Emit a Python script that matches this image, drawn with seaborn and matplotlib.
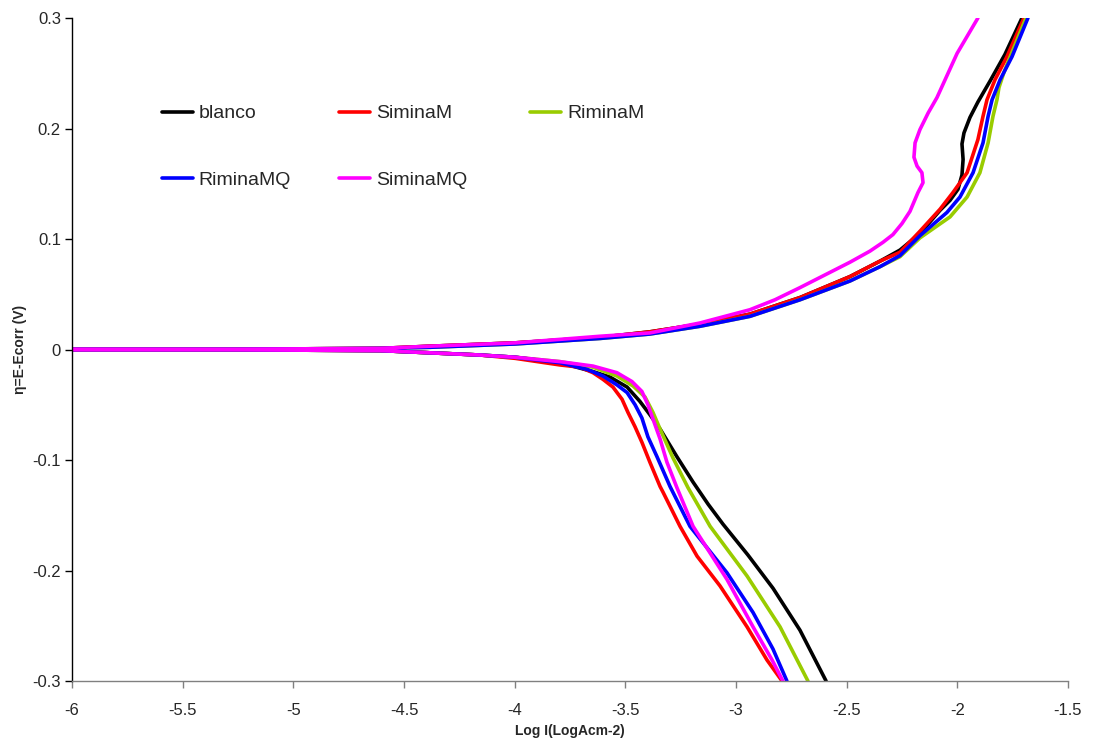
import matplotlib
matplotlib.use("Agg")
import matplotlib.pyplot as plt
import seaborn as sns
import pandas as pd
from matplotlib.lines import Line2D
from matplotlib.legend import Legend

# Polarization curves: overpotential vs log current density.
# Each series runs from the cathodic branch (bottom) through eta = 0 and up the anodic branch.

blanco_x = [-2.593, -2.711, -2.833, -2.946, -3.059, -3.126, -3.194, -3.267, -3.343, -3.389, -3.434, -3.492, -3.569, -3.646, -3.795,
            -3.998, -4.157, -4.382, -4.608, -5.5, -6.2,
            -5.5, -4.608, -4.382, -3.998, -3.614, -3.389, -3.163, -2.937, -2.711, -2.485, -2.349, -2.259, -2.169,
            -2.078, -2.033, -1.997, -1.979, -1.974, -1.979, -1.970, -1.943, -1.907, -1.852, -1.785, -1.708]
blanco_y = [-0.300, -0.254, -0.216, -0.186, -0.158, -0.140, -0.120, -0.097, -0.072, -0.059, -0.047, -0.034, -0.025, -0.020, -0.012,
            -0.007, -0.005, -0.003, -0.001, 0.0, 0.0,
            0.0, 0.001, 0.003, 0.006, 0.011, 0.016, 0.023, 0.032, 0.047, 0.066, 0.080, 0.090, 0.105,
            0.126, 0.135, 0.145, 0.158, 0.172, 0.186, 0.196, 0.210, 0.224, 0.243, 0.267, 0.300]

siminaM_x = [-2.792, -2.860, -2.950, -3.072, -3.176, -3.253, -3.330, -3.343, -3.389, -3.425, -3.456, -3.488, -3.515, -3.556,
             -3.601, -3.646, -3.705, -3.795, -3.998, -4.157, -4.382, -4.608, -5.5, -6.2,
             -5.5, -4.608, -4.382, -3.998, -3.614, -3.389, -3.163, -2.937, -2.711, -2.485, -2.349, -2.259, -2.169,
             -2.078, -2.020, -1.956, -1.907, -1.884, -1.866, -1.830, -1.776, -1.699]
siminaM_y = [-0.300, -0.281, -0.251, -0.214, -0.187, -0.160, -0.129, -0.124, -0.102, -0.084, -0.070, -0.057, -0.045, -0.034,
             -0.027, -0.021, -0.016, -0.014, -0.008, -0.005, -0.003, -0.001, 0.0, 0.0,
             0.0, 0.001, 0.003, 0.006, 0.011, 0.016, 0.023, 0.032, 0.047, 0.066, 0.080, 0.088, 0.107,
             0.127, 0.142, 0.160, 0.190, 0.211, 0.226, 0.244, 0.265, 0.300]

riminaM_x = [-2.675, -2.801, -2.950, -3.117, -3.217, -3.285, -3.343, -3.375, -3.411, -3.465, -3.538, -3.646, -3.795,
             -3.998, -4.157, -4.382, -4.608, -5.5, -6.2,
             -5.5, -4.608, -4.382, -3.998, -3.614, -3.389, -3.163, -2.937, -2.711, -2.485, -2.349, -2.259, -2.169,
             -2.033, -1.956, -1.898, -1.861, -1.839, -1.821, -1.812, -1.789, -1.757, -1.690]
riminaM_y = [-0.300, -0.251, -0.205, -0.160, -0.125, -0.098, -0.072, -0.057, -0.043, -0.033, -0.024, -0.016, -0.011,
             -0.007, -0.005, -0.003, -0.001, 0.0, 0.0,
             0.0, 0.001, 0.002, 0.005, 0.010, 0.014, 0.021, 0.030, 0.045, 0.062, 0.075, 0.084, 0.101,
             0.120, 0.138, 0.160, 0.187, 0.211, 0.226, 0.237, 0.251, 0.267, 0.300]

riminaMQ_x = [-2.770, -2.833, -2.923, -3.041, -3.208, -3.298, -3.357, -3.398, -3.425, -3.456, -3.492, -3.538, -3.601, -3.673,
              -3.795, -3.998, -4.157, -4.382, -4.608, -5.5, -6.2,
              -5.5, -4.608, -4.382, -3.998, -3.614, -3.389, -3.163, -2.937, -2.711, -2.485, -2.349, -2.259, -2.169,
              -2.047, -1.988, -1.929, -1.884, -1.861, -1.843, -1.807, -1.753, -1.681]
riminaMQ_y = [-0.300, -0.271, -0.238, -0.202, -0.160, -0.124, -0.097, -0.079, -0.062, -0.050, -0.039, -0.032, -0.024, -0.018,
              -0.012, -0.007, -0.005, -0.003, -0.001, 0.0, 0.0,
              0.0, 0.001, 0.002, 0.005, 0.010, 0.014, 0.021, 0.030, 0.045, 0.062, 0.075, 0.085, 0.103,
              0.124, 0.138, 0.160, 0.187, 0.211, 0.226, 0.244, 0.265, 0.300]

siminaMQ_x = [-2.788, -2.837, -2.923, -3.041, -3.194, -3.267, -3.312, -3.343, -3.375, -3.398, -3.425, -3.470, -3.538, -3.646,
              -3.795, -3.998, -4.157, -4.382, -4.608, -5.5, -6.2,
              -5.5, -4.608, -4.382, -3.998, -3.614, -3.389, -3.163, -2.937, -2.824, -2.711, -2.485, -2.395, -2.336,
              -2.291, -2.250, -2.214, -2.178, -2.155, -2.160, -2.182, -2.196, -2.191, -2.169, -2.132, -2.092, -2.001, -1.907]
siminaMQ_y = [-0.300, -0.281, -0.251, -0.208, -0.160, -0.125, -0.102, -0.081, -0.063, -0.050, -0.038, -0.029, -0.021, -0.015,
              -0.011, -0.007, -0.005, -0.003, -0.001, 0.0, 0.0,
              0.0, 0.001, 0.003, 0.006, 0.012, 0.015, 0.024, 0.036, 0.045, 0.056, 0.079, 0.089, 0.097,
              0.104, 0.114, 0.125, 0.142, 0.151, 0.160, 0.166, 0.174, 0.187, 0.199, 0.214, 0.228, 0.268, 0.300]

series_names = ["blanco", "SiminaM", "RiminaM", "RiminaMQ", "SiminaMQ"]
series_colors = ["#000000", "#FF0000", "#99CC00", "#0000FF", "#FF00FF"]
x_ticks = [-6, -5.5, -5, -4.5, -4, -3.5, -3, -2.5, -2, -1.5]
y_ticks = [-0.3, -0.2, -0.1, 0, 0.1, 0.2, 0.3]
x_label = "Log I(LogAcm-2)"
y_label = "η=E-Ecorr (V)"

curves = {
    "blanco": (blanco_x, blanco_y),
    "SiminaM": (siminaM_x, siminaM_y),
    "RiminaM": (riminaM_x, riminaM_y),
    "RiminaMQ": (riminaMQ_x, riminaMQ_y),
    "SiminaMQ": (siminaMQ_x, siminaMQ_y),
}

frames = []
for name in series_names:
    xs, ys = curves[name]
    frames.append(pd.DataFrame({"serie": name, "logi": xs, "eta": ys, "step": range(len(xs))}))
df = pd.concat(frames, ignore_index=True)

sns.set_style("white")
plt.rcParams["font.family"] = ["Liberation Sans", "DejaVu Sans"]

fig = plt.figure(figsize=(10.93, 7.40), dpi=100)
ax = fig.add_axes([72 / 1093, 1 - 681 / 740, (1068 - 72) / 1093, (681 - 18) / 740])

palette = dict(zip(series_names, series_colors))
sns.lineplot(data=df, x="logi", y="eta", hue="serie", hue_order=series_names,
             palette=palette, sort=False, estimator=None, linewidth=2.6,
             legend=False, ax=ax)
for line in ax.get_lines():
    line.set_solid_joinstyle("round")
    line.set_solid_capstyle("round")

ax.set_xlim(-6, -1.5)
ax.set_ylim(-0.3, 0.3)
ax.set_xticks(x_ticks)
ax.set_xticklabels([f"{v:g}" for v in x_ticks])
ax.set_yticks(y_ticks)
ax.set_yticklabels([f"{v:g}" for v in y_ticks])

for side in ("top", "right"):
    ax.spines[side].set_visible(False)
ax.spines["left"].set_color("black")
ax.spines["left"].set_linewidth(1.0)
ax.spines["bottom"].set_color("#808080")
ax.spines["bottom"].set_linewidth(1.0)
ax.tick_params(axis="y", direction="out", length=5, width=1, color="black",
               labelsize=12, pad=3, left=True)
ax.tick_params(axis="x", direction="out", length=5, width=1, color="#808080",
               labelsize=12, pad=11, bottom=True)

ax.set_xlabel(x_label, fontsize=10, fontweight="bold", labelpad=4)
ax.set_ylabel(y_label, fontsize=10, fontweight="bold", labelpad=4)

# legend laid out as three separate columns with even spacing
handles = {name: Line2D([], [], color=palette[name], linewidth=2.6) for name in series_names}
columns = [(["blanco", "RiminaMQ"], 0.090), (["SiminaM", "SiminaMQ"], 0.268), (["RiminaM"], 0.460)]
for names, xpos in columns:
    leg = Legend(ax, [handles[n] for n in names], names, loc="upper left",
                 bbox_to_anchor=(xpos, 0.869), frameon=False, fontsize=14,
                 handlelength=1.6, handletextpad=0.3, labelspacing=2.5,
                 borderpad=0, borderaxespad=0)
    ax.add_artist(leg)

fig.savefig("out.png", dpi=100, facecolor="white")
